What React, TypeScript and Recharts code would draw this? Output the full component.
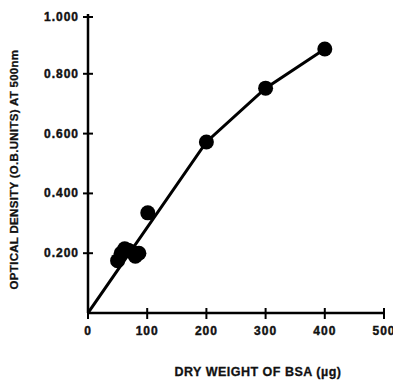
import React from "react";
import { ComposedChart, XAxis, YAxis, Line, Scatter } from "recharts";

const xTicks = [0, 100, 200, 300, 400, 500];
const yTicks = [0.2, 0.4, 0.6, 0.8, 1.0];

// measured points (dry weight µg, optical density)
const pointWeights = [50, 56, 62, 68, 74, 80, 86, 101, 200, 300, 400];
const pointDensities = [0.175, 0.2, 0.215, 0.21, 0.205, 0.19, 0.2, 0.335, 0.572, 0.752, 0.883];

// standard curve drawn through the points
const curveWeights = [0, 200, 300, 400];
const curveDensities = [0, 0.572, 0.752, 0.883];

const points = pointWeights.map((w, i) => ({ x: w, y: pointDensities[i] }));
const curve = curveWeights.map((w, i) => ({ x: w, y: curveDensities[i] }));

const FONT = "'Liberation Sans', Arial, sans-serif";

const XTick = (props: any) => {
  const { x, y, payload } = props;
  return (
    <g>
      <line x1={x} x2={x} y1={y - 5} y2={y + 6} stroke="#000" strokeWidth={2} />
      <text
        x={x}
        y={y + 18}
        textAnchor="middle"
        dominantBaseline="central"
        fontFamily={FONT}
        fontWeight="bold"
        fontSize={12}
        letterSpacing={1}
        stroke="#111"
        strokeWidth={0.4}
        fill="#111"
      >
        {payload.value}
      </text>
    </g>
  );
};

const YTick = (props: any) => {
  const { x, y, payload } = props;
  return (
    <g>
      <line x1={x - 5} x2={x + 5} y1={y} y2={y} stroke="#000" strokeWidth={2} />
      <text
        x={x - 9}
        y={y}
        textAnchor="end"
        dominantBaseline="central"
        fontFamily={FONT}
        fontWeight="bold"
        fontSize={12}
        letterSpacing={1}
        stroke="#111"
        strokeWidth={0.4}
        fill="#111"
      >
        {Number(payload.value).toFixed(3)}
      </text>
    </g>
  );
};

const YLabel = (props: any) => {
  const { viewBox } = props;
  const cx = viewBox.x + 6;
  const cy = viewBox.y + viewBox.height / 2 + 6;
  return (
    <text
      x={cx}
      y={cy}
      transform={`rotate(-90 ${cx} ${cy})`}
      textAnchor="middle"
      dominantBaseline="central"
      fontFamily={FONT}
      fontWeight="bold"
      fontSize={11.5}
      letterSpacing={0.3}
      stroke="#111"
      strokeWidth={0.3}
      fill="#111"
    >
      OPTICAL DENSITY (O.B.UNITS)  AT 500nm
    </text>
  );
};

const XLabel = (props: any) => {
  const { viewBox } = props;
  const cx = viewBox.x + viewBox.width / 2 + 22;
  const cy = viewBox.y + 59;
  return (
    <text
      x={cx}
      y={cy}
      textAnchor="middle"
      dominantBaseline="central"
      fontFamily={FONT}
      fontWeight="bold"
      fontSize={12.5}
      letterSpacing={0.5}
      stroke="#111"
      strokeWidth={0.3}
      fill="#111"
    >
      DRY WEIGHT OF BSA (µg)
    </text>
  );
};

export default function App() {
  return (
    <ComposedChart
      width={393}
      height={378}
      margin={{ top: 6, right: 17, left: 0, bottom: 0 }}
      style={{ background: "#fff" }}
    >
      <XAxis
        type="number"
        dataKey="x"
        domain={[0, 500]}
        ticks={xTicks}
        height={73}
        tickSize={0}
        tickMargin={0}
        tickLine={false}
        axisLine={{ stroke: "#000", strokeWidth: 2.5 }}
        tick={<XTick />}
        label={<XLabel />}
        allowDataOverflow
      />
      <YAxis
        type="number"
        dataKey="y"
        domain={[0, 1]}
        ticks={yTicks}
        width={80}
        tickSize={0}
        tickMargin={0}
        tickLine={false}
        axisLine={{ stroke: "#000", strokeWidth: 2.5 }}
        tick={<YTick />}
        label={<YLabel />}
        allowDataOverflow
      />
      <Line
        data={curve}
        dataKey="y"
        type="linear"
        stroke="#000"
        strokeWidth={3}
        dot={false}
        isAnimationActive={false}
      />
      <Scatter
        data={points}
        dataKey="y"
        fill="#000"
        shape={(p: any) => <circle cx={p.cx} cy={p.cy} r={7.5} fill="#000" />}
        isAnimationActive={false}
      />
    </ComposedChart>
  );
}
